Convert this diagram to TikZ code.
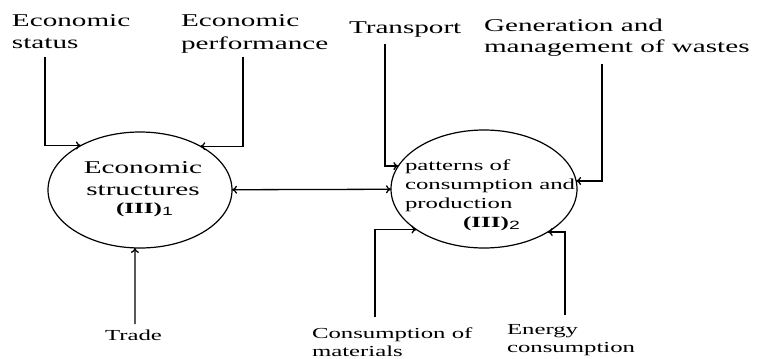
\documentclass[tikz,border=0pt]{standalone}
\usepackage{fontspec}
\usepackage{graphicx}
\setmainfont{Liberation Serif}
\newfontfamily\subfont{Liberation Sans}
\usetikzlibrary{arrows.meta,shapes.geometric}
% horizontally widened text blocks (left / centred)
\newcommand\widel[3]{\scalebox{1.62}[1]{\fontsize{#1}{#2}\selectfont\begin{tabular}[t]{@{}l@{}}#3\end{tabular}}}
\newcommand\widec[3]{\scalebox{1.62}[1]{\fontsize{#1}{#2}\selectfont\begin{tabular}[t]{@{}c@{}}#3\end{tabular}}}
% bold numeral with a sans subscript index
\newcommand\romidx[1]{\textbf{(III)}\raisebox{-0.3ex}{\subfont\fontsize{12}{13}\selectfont #1}}
\begin{document}
\begin{tikzpicture}[x=1pt,y=-1pt,
  lbl/.style={inner sep=0pt,outer sep=0pt,anchor=base west},
  clbl/.style={inner sep=0pt,outer sep=0pt,anchor=base},
  oval/.style={ellipse,draw,line width=1.2pt,inner sep=0pt,outer sep=0pt},
  arr/.style={line width=1.3pt,-{To[length=5pt,width=8pt]}},
  darr/.style={line width=1.3pt,{To[length=5pt,width=8pt]}-{To[length=5pt,width=8pt]}}]
\fill[white] (0,0) rectangle (764,359);
\useasboundingbox (0,0) rectangle (764,359);

% the two ovals
\node[oval,minimum width=184pt,minimum height=116pt] (ec) at (140,190) {};
\node[oval,minimum width=186pt,minimum height=118pt] (pc) at (484,189) {};

% texts inside the ovals
\node[clbl] (ect) at (143,173) {\widec{18}{22}{Economic\\structures}};
\node[lbl] (ecn) at (116,213) {\widel{15.5}{18}{\romidx{1}}};
\node[lbl] (pct) at (405,170) {\widel{15.3}{19}{patterns of\\consumption and\\production}};
\node[lbl] (pcn) at (463,227) {\widel{15.5}{18}{\romidx{2}}};

% outer labels
\node[lbl] (es) at (12,26) {\widel{18}{22}{Economic\\status}};
\node[lbl] (ep) at (181,26) {\widel{18}{23}{Economic\\performance}};
\node[lbl] (tp) at (349,33) {\widel{18}{22}{Transport}};
\node[lbl] (gm) at (484,31) {\widel{18}{21}{Generation and\\management of wastes}};
\node[lbl] (tr) at (105,340) {\widel{15.3}{18}{Trade}};
\node[lbl] (cm) at (312,338) {\widel{15.3}{18}{Consumption of\\materials}};
\node[lbl] (en) at (507,334) {\widel{15.3}{18}{Energy\\consumption}};

% start points of the connectors
\coordinate (es0) at (45,57);
\coordinate (ep0) at (243,57);
\coordinate (tp0) at (385,44);
\coordinate (gm0) at (602,64);
\coordinate (tr0) at (135,324);
\coordinate (cm0) at (375,317);
\coordinate (en0) at (565,315);

% connectors
\draw[arr] (es0) |- (ec.143.75);
\draw[arr] (ep0) |- (ec.36.25);
\draw[arr] (tr0) -- (ec.265);
\draw[darr] (ec) -- (pc);
\draw[arr] (tp0) |- (pc.165);
\draw[arr] (gm0) |- (pc.5);
\draw[arr] (cm0) |- (pc.211.5);
\draw[arr] (en0) |- (pc.326);
\end{tikzpicture}
\end{document}
